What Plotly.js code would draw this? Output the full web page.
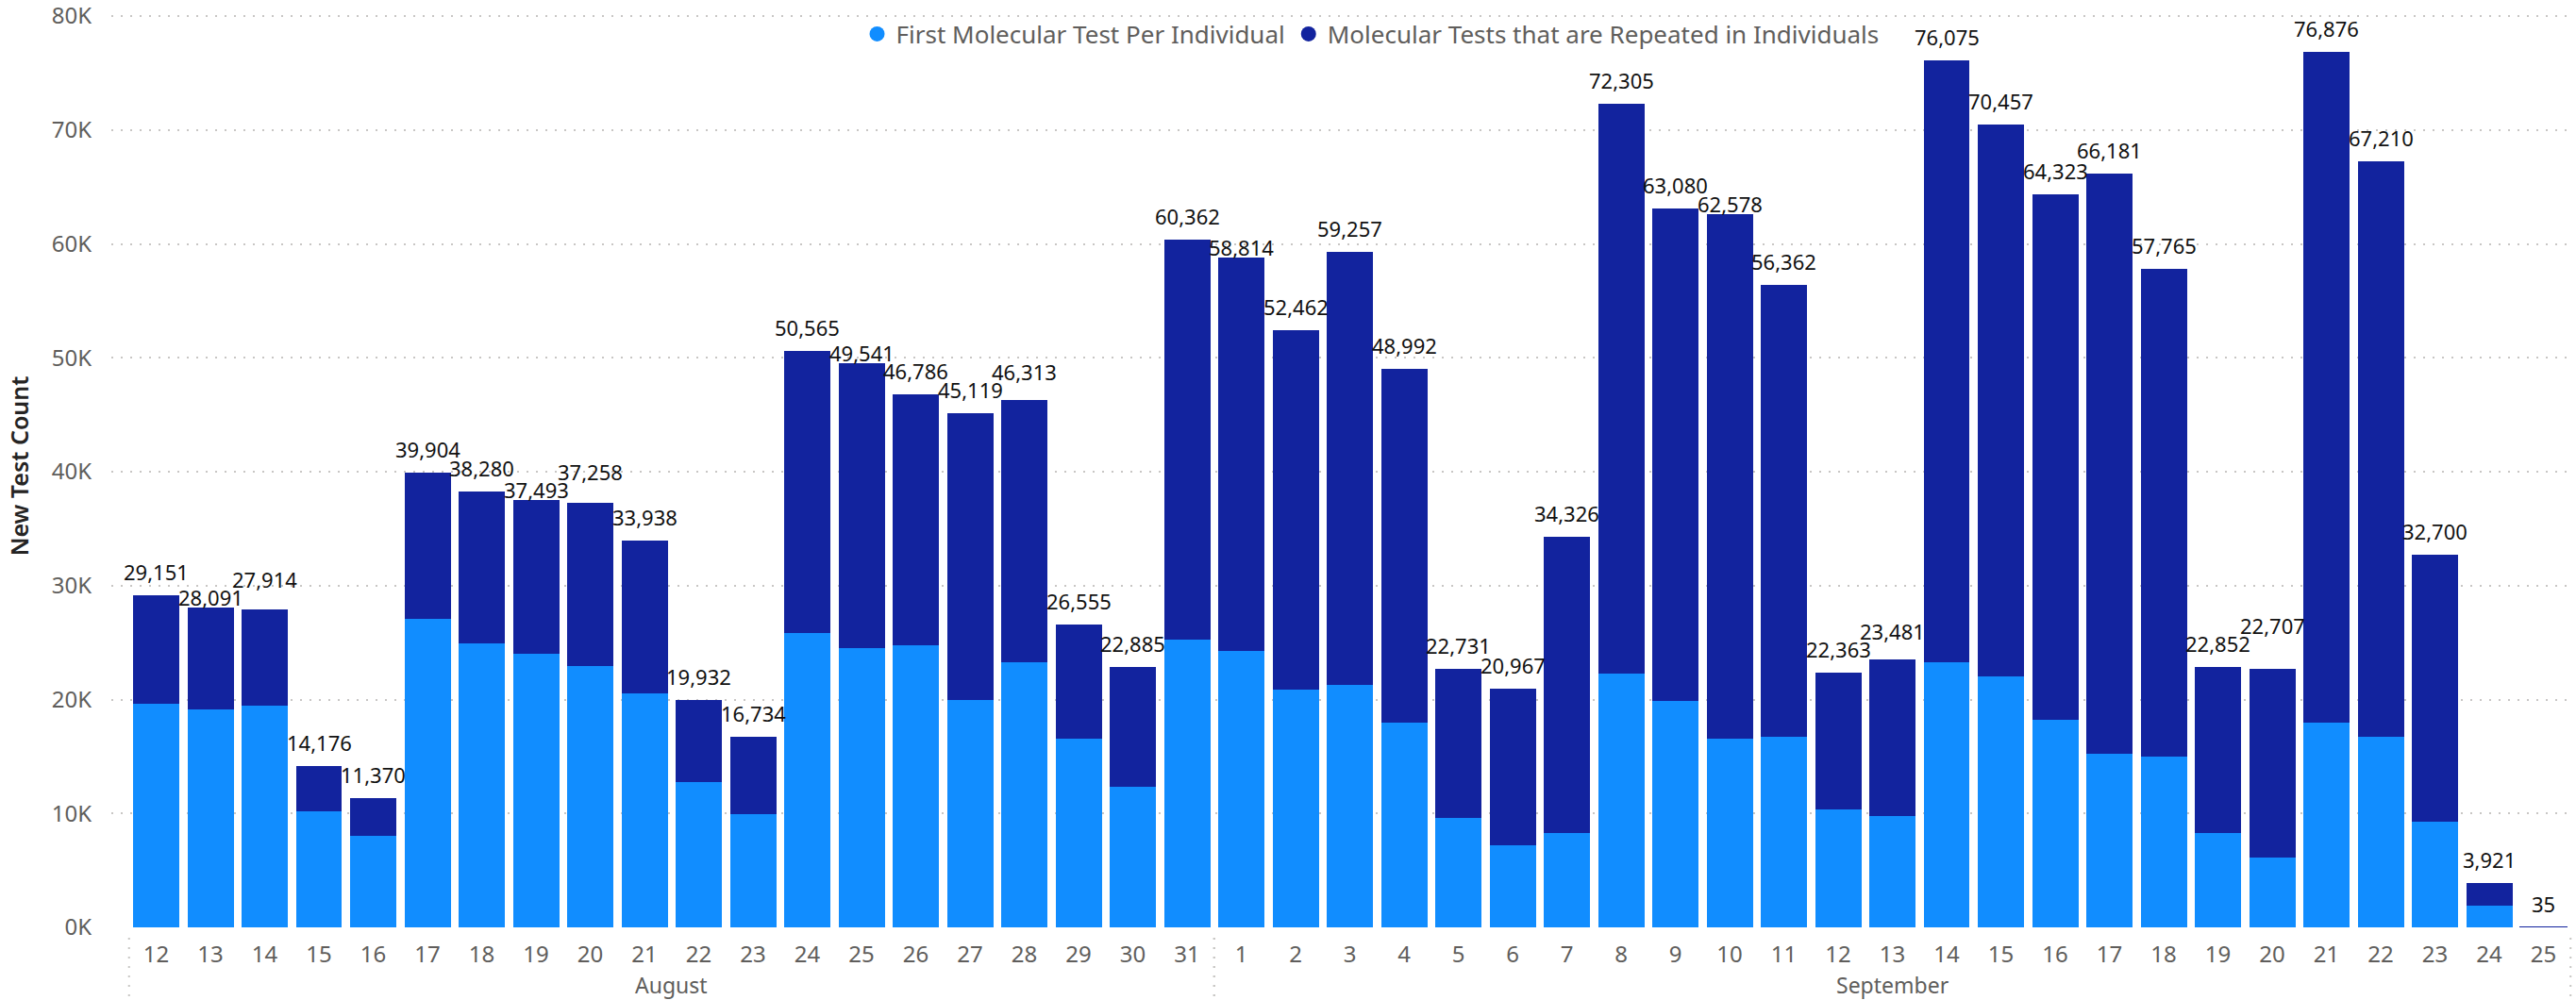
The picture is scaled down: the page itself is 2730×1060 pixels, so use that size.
<!DOCTYPE html>
<html>
<head>
<meta charset="utf-8">
<script src="https://cdn.plot.ly/plotly-3.0.1.min.js"></script>
<style>
  html, body { margin: 0; padding: 0; background: #fff; }
  #chart { width: 2730px; height: 1060px; }
</style>
</head>
<body>
<div id="chart"></div>
<script>
// ---- data ----
const months = ["August","August","August","August","August","August","August","August","August","August",
                "August","August","August","August","August","August","August","August","August","August",
                "September","September","September","September","September","September","September","September","September","September",
                "September","September","September","September","September","September","September","September","September","September",
                "September","September","September","September","September"];
const days = ["12","13","14","15","16","17","18","19","20","21","22","23","24","25","26","27","28","29","30","31",
              "1","2","3","4","5","6","7","8","9","10","11","12","13","14","15","16","17","18","19","20","21","22","23","24","25"];
const totalTests = [29151,28091,27914,14176,11370,39904,38280,37493,37258,33938,19932,16734,50565,49541,46786,45119,46313,26555,22885,60362,
                    58814,52462,59257,48992,22731,20967,34326,72305,63080,62578,56362,22363,23481,76075,70457,64323,66181,57765,22852,22707,76876,67210,32700,3921,35];
const firstTests = [19600,19100,19450,10200,8000,27100,24900,24000,22900,20500,12750,9900,25800,24500,24800,20000,23300,16600,12300,25300,
                    24300,20900,21300,18000,9600,7200,8300,22300,19900,16600,16700,10350,9800,23300,22000,18200,15200,15000,8300,6100,18000,16700,9300,1900,0];
const seriesNames = ["First Molecular Test Per Individual", "Molecular Tests that are Repeated in Individuals"];
const seriesColors = ["#118DFF", "#12239E"];
const yTickVals = [0,10000,20000,30000,40000,50000,60000,70000,80000];
const yTickText = ["0K","10K","20K","30K","40K","50K","60K","70K","80K"];
const yTitle = "New Test Count";

// ---- derived ----
const idx = days.map((d, i) => i);
const repeatedTests = totalTests.map((t, i) => t - firstTests[i]);
const fmt = n => n.toLocaleString("en-US");

const FONT = "'Noto Sans', 'Open Sans', sans-serif";

// plot frame (px) ; the 80K line is wanted at y=17
const L = 118, R = 2726, T = 5, B = 983;
const plotH = B - T;
const YMAX = yTickVals[yTickVals.length - 1] * (B - T) / (B - 17);
const py = px => (B - px) / plotH;

// hairline outline so that stacks thinner than a pixel remain visible
const tinyOutline = repeatedTests.map(v => (v / YMAX * plotH < 1 ? 1.5 : 0));

const traces = [
  {
    type: "bar", x: idx, y: firstTests, name: seriesNames[0],
    marker: { color: seriesColors[0] }, showlegend: false, hoverinfo: "skip"
  },
  {
    type: "bar", x: idx, y: repeatedTests, name: seriesNames[1],
    marker: { color: seriesColors[1], line: { color: seriesColors[1], width: tinyOutline } },
    showlegend: false, hoverinfo: "skip"
  },
  // legend entries with round markers
  { type: "scatter", mode: "markers", x: [null], y: [null], name: seriesNames[0],
    marker: { color: seriesColors[0], size: 21, symbol: "circle" } },
  { type: "scatter", mode: "markers", x: [null], y: [null], name: seriesNames[1],
    marker: { color: seriesColors[1], size: 21, symbol: "circle" } }
];

// total labels above the stacks, nudged vertically to avoid their left neighbour
const annotations = [];
const DEF = 25, LOW = 11, H = 19;
let prevC = null;
totalTests.forEach((t, i) => {
  const top = t / YMAX * plotH;          // bar top height in px above baseline
  let c = top + DEF;                      // label centre height in px
  if (prevC !== null && Math.abs(c - prevC) < H) {
    const low = top + LOW;
    if (Math.abs(low - prevC) >= H) c = low;
    else c = Math.max(prevC + H, c);
  }
  prevC = c;
  annotations.push({
    x: i, y: 0, xref: "x", yref: "y", yshift: c, yanchor: "middle",
    text: fmt(t), showarrow: false,
    font: { family: FONT, size: 22, color: "#111111" }
  });
});

// month group labels and dotted dividers computed from the month array
const shapes = [];
const monthNames = [...new Set(months)];
monthNames.forEach(m => {
  const ids = idx.filter(i => months[i] === m);
  const first = ids[0], last = ids[ids.length - 1];
  annotations.push({
    x: (first + last) / 2, y: py(1044), xref: "x", yref: "paper",
    text: m, showarrow: false, yanchor: "middle",
    font: { family: FONT, size: 23, color: "#605E5C" }
  });
  [first - 0.5, last + 0.5].forEach(b => {
    shapes.push({
      type: "line", xref: "x", yref: "paper", x0: b, x1: b, y0: py(994), y1: py(1056),
      line: { color: "#C8C6C4", width: 2, dash: "2px,8px" }
    });
  });
});

// x-range so that the first bar centre sits at 165.5px
const unit = (2695.5 - 165.5) / (days.length - 1);
const xmin = -(165.5 - L) / unit;
const xmax = (days.length - 1) + (R - 2695.5) / unit;

const layout = {
  width: 2730, height: 1060,
  margin: { l: L, r: 2730 - R, t: T, b: 1060 - B },
  paper_bgcolor: "#ffffff", plot_bgcolor: "#ffffff",
  barmode: "stack", bargap: 0.148,
  font: { family: FONT, color: "#605E5C" },
  showlegend: true,
  legend: {
    orientation: "h", traceorder: "normal",
    x: 0.3035, xanchor: "left", y: py(36), yanchor: "middle",
    font: { family: FONT, size: 26, color: "#605E5C" },
    bgcolor: "rgba(0,0,0,0)", itemwidth: 30, tracegroupgap: 0
  },
  xaxis: {
    type: "linear", range: [xmin, xmax],
    tickmode: "array", tickvals: idx, ticktext: days,
    showgrid: false, zeroline: false, showline: false, ticks: "",
    ticklabelstandoff: 12,
    tickfont: { family: FONT, size: 24, color: "#605E5C" },
    fixedrange: true
  },
  yaxis: {
    range: [0, YMAX],
    tickmode: "array", tickvals: yTickVals, ticktext: yTickText,
    showgrid: true, gridcolor: "#C8C6C4", gridwidth: 2, griddash: "2px,8px",
    zeroline: false, showline: false, ticks: "",
    ticklabelstandoff: 20, ticklabeloverflow: "allow",
    tickfont: { family: FONT, size: 24, color: "#605E5C" },
    title: { text: yTitle, standoff: 16, font: { family: FONT, size: 25, color: "#252423", weight: 600 } },
    fixedrange: true
  },
  annotations: annotations,
  shapes: shapes
};

Plotly.newPlot("chart", traces, layout, { displayModeBar: false, staticPlot: true });
</script>
</body>
</html>
